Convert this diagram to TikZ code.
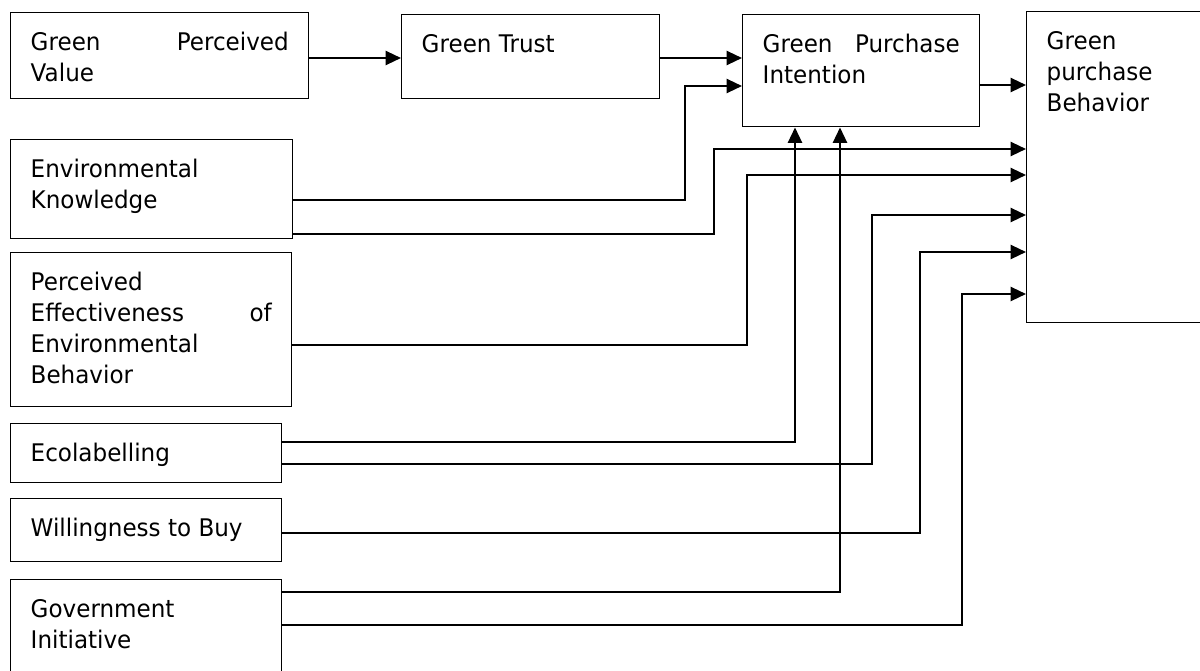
\documentclass[tikz,border=0pt]{standalone}
\usepackage{fontspec}
\setmainfont{DejaVu Sans}[FakeStretch=0.95]
\usepackage{tikz}
\usetikzlibrary{arrows.meta}

\begin{document}
\begin{tikzpicture}[x=0.75pt,y=-0.75pt,
        blk/.style={draw,line width=1.1pt,anchor=north west,inner xsep=15pt,inner ysep=0pt,
            align=justify,text height=28.5pt,font=\fontsize{18.2}{23.25}\selectfont},
        arr/.style={line width=1.7pt,-{Triangle[length=11.5pt,width=10.5pt]}}]
        \useasboundingbox (0,0) rectangle (1200,671);
        \clip (0,0) rectangle (1200,671);
        % top row
        \node[blk,text width=193.5pt,text depth=36pt] (gpv) at (10,12) {Green\hfill Perceived\\Value};
        \node[blk,text width=163.5pt,text depth=34.5pt] (gt) at (401,14) {Green Trust};
        \node[blk,text width=147.75pt,text depth=55.5pt] (gpi) at (742,14) {Green\hfill Purchase\\Intention};
        \node[blk,text width=111.75pt,text depth=204.75pt] (gpb) at (1026,11) {Green\\purchase\\Behavior};
        % left column
        \node[blk,text width=181.5pt,text depth=45.75pt] (ek) at (10,139) {Environmental\\Knowledge};
        \node[blk,text width=180.75pt,text depth=87pt] (pe) at (10,252) {Perceived\\Effectiveness\hfill of\\Environmental\\Behavior};
        \node[blk,text width=173.25pt,text depth=15.75pt] (eco) at (10,423) {Ecolabelling};
        \node[blk,text width=173.25pt,text depth=18.75pt] (wtb) at (10,498) {Willingness to Buy};
        \node[blk,text width=173.25pt,text depth=54.75pt] (gov) at (10,579) {Government\\Initiative};
        % arrows
        \draw[arr] (gpv.east |- 0,58) -- (gt.west |- 0,58);
        \draw[arr] (gt.east |- 0,58) -- (gpi.west |- 0,58);
        \draw[arr] (gpi.east |- 0,85) -- (gpb.west |- 0,85);
        \draw[arr] (ek.east |- 0,200) -| (685,86) -- (gpi.west |- 0,86);
        \draw[arr] (ek.east |- 0,234) -| (714,149) -- (gpb.west |- 0,149);
        \draw[arr] (pe.east |- 0,345) -| (747,175) -- (gpb.west |- 0,175);
        \draw[arr] (eco.east |- 0,442) -| (gpi.south -| 795,0);
        \draw[arr] (eco.east |- 0,464) -| (872,215) -- (gpb.west |- 0,215);
        \draw[arr] (wtb.east |- 0,533) -| (920,252) -- (gpb.west |- 0,252);
        \draw[arr] (gov.east |- 0,592) -| (gpi.south -| 840,0);
        \draw[arr] (gov.east |- 0,625) -| (962,294) -- (gpb.west |- 0,294);
\end{tikzpicture}
\end{document}
